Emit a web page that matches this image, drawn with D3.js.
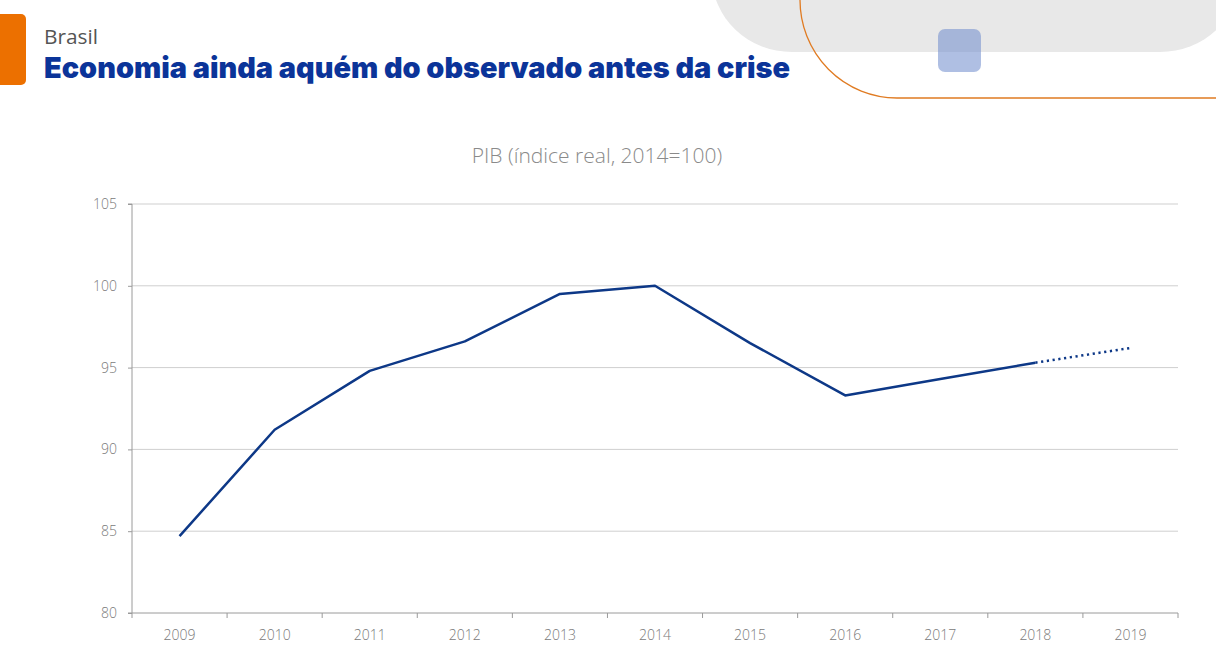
<!DOCTYPE html>
<html><head><meta charset="utf-8">
<script src="https://cdn.jsdelivr.net/npm/d3@7"></script>
<style>html,body{margin:0;padding:0;background:#fff;}svg{display:block;}</style>
</head><body>
<svg id="c" width="1216" height="661"></svg>
<script>
const years = ["2009","2010","2011","2012","2013","2014","2015","2016","2017","2018","2019"];
const pib = [84.7, 91.2, 94.8, 96.6, 99.5, 100.0, 96.5, 93.3, 94.3, 95.3, 96.2];
const yTicks = [80, 85, 90, 95, 100, 105];
const projStart = "2018";
const chartTitle = "PIB (índice real, 2014=100)";
const kicker = "Brasil";
const headline = "Economia ainda aquém do observado antes da crise";

const svg = d3.select("#c");
const m = {l:132, r:1178, t:204, b:613};
const lightFont = "Open Sans, sans-serif";

// decoration
svg.append("rect").attr("x",712).attr("y",-100).attr("width",528).attr("height",152).attr("rx",80).attr("fill","#e8e8e8");
svg.append("path").attr("d","M800,-10 L800,0 A97 98 0 0 0 897 98 L1216 98").attr("fill","none").attr("stroke","#e07b22").attr("stroke-width",1.3);
svg.append("rect").attr("x",938).attr("y",29).attr("width",43).attr("height",43).attr("rx",7).attr("fill","#6e8bcc").attr("opacity",0.55);

// header
svg.append("rect").attr("x",-10).attr("y",14).attr("width",36).attr("height",71).attr("rx",5).attr("fill","#ec7000");
svg.append("text").attr("x",44).attr("y",44).text(kicker).attr("font-family",lightFont).attr("font-size",20).attr("fill","#555").attr("textLength",54).attr("lengthAdjust","spacingAndGlyphs");
svg.append("text").attr("x",44).attr("y",78).text(headline).attr("font-family","Inter, Lato, sans-serif").attr("font-weight",900).attr("font-size",29).attr("fill","#0b3499").attr("textLength",746).attr("lengthAdjust","spacingAndGlyphs");

// chart title
svg.append("text").attr("x",597).attr("y",163).attr("text-anchor","middle").text(chartTitle).attr("font-family",lightFont).attr("font-weight",300).attr("font-size",21).attr("fill","#8a8a8a");

const x = d3.scaleBand().domain(years).range([m.l, m.r]);
const y = d3.scaleLinear().domain([80,105]).range([m.b, m.t]);

// gridlines
svg.append("g").selectAll("line").data(yTicks.filter(d=>d>80)).join("line")
  .attr("x1",m.l).attr("x2",m.r).attr("y1",d=>y(d)).attr("y2",d=>y(d))
  .attr("stroke","#cfcfcf").attr("stroke-width",1);

// y axis
const ya = svg.append("g").attr("transform",`translate(${m.l},0)`)
  .call(d3.axisLeft(y).tickValues(yTicks).tickSize(4).tickPadding(11));
ya.select(".domain").attr("stroke","#9a9a9a").attr("d",`M-4,${m.t}H0V${m.b}H-4`);
ya.selectAll(".tick line").attr("stroke","#9a9a9a");
ya.selectAll("text").attr("font-family",lightFont).attr("font-weight",300).attr("font-size",14).attr("fill","#7a7a7a");

// x axis
const xa = svg.append("g").attr("transform",`translate(0,${m.b})`)
  .call(d3.axisBottom(x).tickSize(0).tickPadding(17));
xa.select(".domain").attr("stroke","#9a9a9a").attr("d",`M${m.l},0H${m.r}`);
xa.selectAll("text").attr("font-family",lightFont).attr("font-weight",300).attr("font-size",14).attr("fill","#7a7a7a");
const bounds = years.map(d=>x(d)).concat([m.r]);
xa.append("g").selectAll("line").data(bounds).join("line")
  .attr("x1",d=>d).attr("x2",d=>d).attr("y1",0).attr("y2",5).attr("stroke","#9a9a9a");

// line
const pts = years.map((d,i)=>({yr:d, v:pib[i]}));
const pi = years.indexOf(projStart);
const line = d3.line().x(d=>x(d.yr)+x.bandwidth()/2).y(d=>y(d.v));
svg.append("path").datum(pts.slice(0,pi+1)).attr("d",line).attr("fill","none").attr("stroke","#0d3887").attr("stroke-width",2.5).attr("stroke-linejoin","round");
svg.append("path").datum(pts.slice(pi)).attr("d",line).attr("fill","none").attr("stroke","#0d3887").attr("stroke-width",2.5).attr("stroke-dasharray","2.2,3.6");
</script>
</body></html>
